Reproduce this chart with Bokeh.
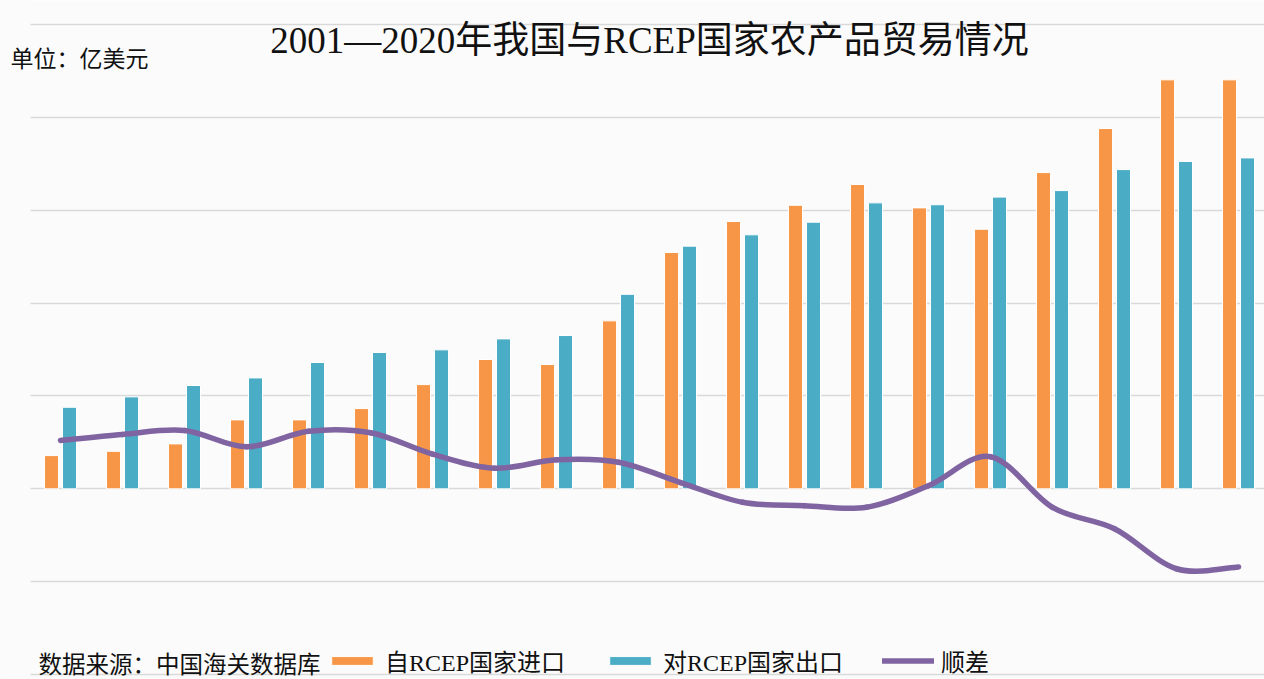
import numpy as np
from bokeh.plotting import figure
from bokeh.models import (Range1d, Grid, FixedTicker, Label, Legend, LegendItem,
                          ColumnDataSource, BoxAnnotation)
from bokeh.transform import dodge
from bokeh.embed import file_html
from bokeh.resources import INLINE

# ---- data (亿美元) ----
years = list(range(2001, 2021))
imports = [17.9, 20.2, 24.2, 37.1, 37.1, 43.2, 56.1, 69.6, 66.9, 90.4,
           127.2, 143.9, 152.6, 163.8, 151.2, 139.7, 170.2, 193.9, 220.1, 220.1]
exports = [43.9, 49.5, 55.6, 59.7, 68.0, 73.4, 74.8, 80.7, 82.5, 104.7,
           130.6, 136.7, 143.5, 153.9, 152.9, 157.0, 160.5, 171.8, 176.2, 178.1]
balance = [26.0, 29.3, 31.4, 22.6, 31.0, 30.2, 18.7, 11.1, 15.6, 14.3,
           3.4, -7.2, -9.1, -9.9, 1.7, 17.3, -10.0, -21.5, -43.0, -42.0]
grid_values = [-100, -50, 0, 50, 100, 150, 200, 250]

title_text = "2001—2020年我国与RCEP国家农产品贸易情况"
unit_text = "单位：亿美元"
source_text = "数据来源：中国海关数据库"
series_names = ["自RCEP国家进口", "对RCEP国家出口", "顺差"]

ORANGE = "#F79646"
TEAL = "#4BACC6"
PURPLE = "#8064A2"
BG = "#fbfbfb"
SERIF = "Liberation Serif, Noto Sans CJK SC"
SANS = "Noto Sans CJK SC"

W, H = 1264, 679
p = figure(width=W, height=H,
           x_range=Range1d(2000.032, 2020.419), y_range=Range1d(-102.6, 262.8),
           x_axis_location=None, y_axis_location=None,
           toolbar_location=None, output_backend="svg",
           min_border_left=0, min_border_right=0, min_border_top=0, min_border_bottom=0,
           background_fill_color=BG, border_fill_color=BG, outline_line_color=None)
p.grid.visible = False

grid = Grid(dimension=1, ticker=FixedTicker(ticks=grid_values),
            grid_line_color="#d9d9d9", grid_line_width=1.5)
p.add_layout(grid, "center")

# gridlines in the reference start a little right of the left edge
p.add_layout(BoxAnnotation(left=0, right=30, left_units="screen", right_units="screen",
                           fill_color=BG, fill_alpha=1.0, line_color=None))

src = ColumnDataSource(dict(year=years, imports=imports, exports=exports))
r_imp = p.vbar(x=dodge("year", -0.145), top="imports", width=0.226, source=src,
               fill_color=ORANGE, line_color="white", line_width=1)
r_exp = p.vbar(x=dodge("year", 0.145), top="exports", width=0.226, source=src,
               fill_color=TEAL, line_color="white", line_width=1)

# smoothed line (Catmull-Rom style bezier through the data points)
xs = np.array(years, dtype=float)
ys = np.array(balance, dtype=float)
n = len(xs)
idx = np.arange(n - 1)
im1 = np.maximum(idx - 1, 0)
ip2 = np.minimum(idx + 2, n - 1)
bsrc = ColumnDataSource(dict(
    x0=xs[idx], y0=ys[idx], x1=xs[idx + 1], y1=ys[idx + 1],
    cx0=xs[idx] + (xs[idx + 1] - xs[im1]) / 6.0,
    cy0=ys[idx] + (ys[idx + 1] - ys[im1]) / 6.0,
    cx1=xs[idx + 1] - (xs[ip2] - xs[idx]) / 6.0,
    cy1=ys[idx + 1] - (ys[ip2] - ys[idx]) / 6.0,
))
r_bal = p.bezier(x0="x0", y0="y0", x1="x1", y1="y1", cx0="cx0", cy0="cy0",
                 cx1="cx1", cy1="cy1", source=bsrc, line_color=PURPLE,
                 line_width=5.5, line_cap="round")

legend = Legend(items=[LegendItem(label=series_names[0], renderers=[r_imp]),
                       LegendItem(label=series_names[1], renderers=[r_exp]),
                       LegendItem(label=series_names[2], renderers=[r_bal])],
                orientation="horizontal", location=(326, 1),
                glyph_width=52, glyph_height=11, label_standoff=7, spacing=39,
                padding=0, margin=0, border_line_color=None,
                background_fill_alpha=0,
                label_text_font=SERIF, label_text_font_size="24px",
                label_text_color="#111111")
p.add_layout(legend)

p.add_layout(Label(x=649, y=639, x_units="screen", y_units="screen", text=title_text,
                   text_align="center", text_baseline="alphabetic",
                   text_font=SERIF, text_font_size="37px", text_color="#111111"))
p.add_layout(Label(x=10, y=623, x_units="screen", y_units="screen", text=unit_text,
                   text_align="left", text_baseline="middle",
                   text_font=SANS, text_font_size="23px", text_color="#111111"))
p.add_layout(Label(x=38, y=17, x_units="screen", y_units="screen", text=source_text,
                   text_align="left", text_baseline="middle",
                   text_font=SANS, text_font_size="23.5px", text_color="#111111"))

open("out.html", "w").write(file_html(p, INLINE))
